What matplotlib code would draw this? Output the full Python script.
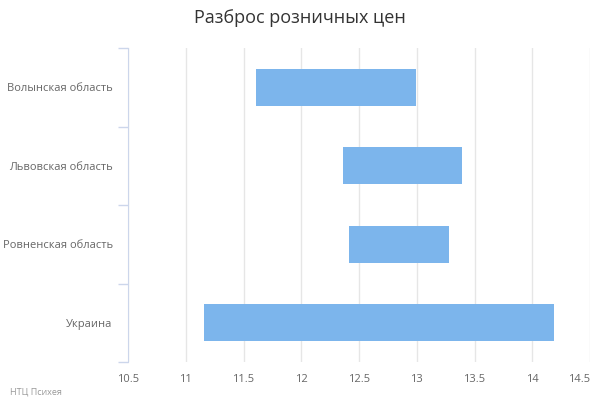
import matplotlib
matplotlib.use("Agg")
import matplotlib.pyplot as plt
from matplotlib.ticker import FuncFormatter

plt.rcParams['font.family'] = ['Open Sans', 'DejaVu Sans']

regions = ['Волынская область', 'Львовская область', 'Ровненская область', 'Украина']
price_low = [11.61, 12.36, 12.41, 11.16]
price_high = [12.99, 13.39, 13.28, 14.19]
x_ticks = [10.5, 11, 11.5, 12, 12.5, 13, 13.5, 14, 14.5]

fig = plt.figure(figsize=(6, 4), dpi=100)
ax = fig.add_axes([128 / 600, 38 / 400, 462 / 600, 314 / 400])

pos = list(range(len(regions)))
widths = [h - l for l, h in zip(price_low, price_high)]
ax.barh(pos, widths, left=price_low, height=0.47, color='#7cb5ec', zorder=3)

ax.set_xlim(10.5, 14.5)
ax.set_ylim(len(regions) - 0.5, -0.5)

ax.set_xticks(x_ticks)
ax.xaxis.set_major_formatter(FuncFormatter(lambda v, p: '%g' % v))
ax.tick_params(axis='x', length=0, pad=9, labelsize=8, labelcolor='#666666')
ax.grid(axis='x', color='#e6e6e6', linewidth=1, zorder=0)
# last label is pulled inside the chart like the original
ax.get_xticklabels()[-1].set_horizontalalignment('right')

# category boundaries get the tick marks, labels sit in the middle
ax.set_yticks([p - 0.5 for p in pos] + [len(regions) - 0.5])
ax.set_yticklabels([])
ax.set_yticks(pos, minor=True)
ax.set_yticklabels(regions, minor=True)
ax.tick_params(axis='y', which='major', length=7.2, width=1, color='#ccd6eb')
ax.tick_params(axis='y', which='minor', length=0, pad=11, labelsize=8, labelcolor='#666666')

for s in ['top', 'right', 'bottom']:
    ax.spines[s].set_visible(False)
ax.spines['left'].set_color('#ccd6eb')

fig.text(0.5, 1 - 18 / 400, 'Разброс розничных цен', ha='center', va='center',
         fontsize=13, color='#333333')
fig.text(10 / 600, 1 - 392 / 400, 'НТЦ Психея', ha='left', va='center',
         fontsize=6.5, color='#999999')

fig.savefig('out.png', dpi=100)
